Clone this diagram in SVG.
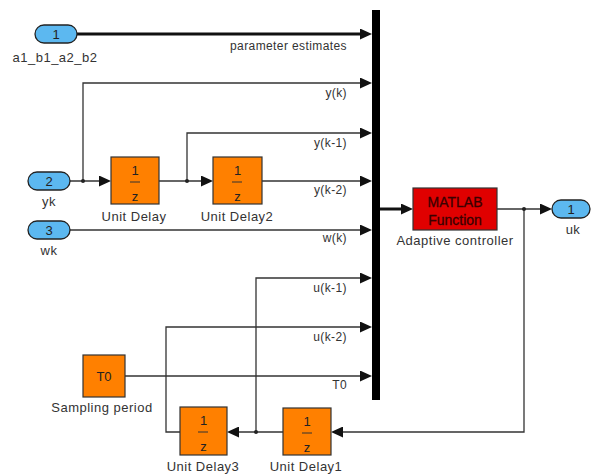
<svg xmlns="http://www.w3.org/2000/svg" width="591" height="476" viewBox="0 0 591 476">
<style>
text{font-family:"Liberation Sans",Arial,sans-serif;fill:#333}
.lbl{font-size:13px;letter-spacing:0.5px;text-anchor:middle}
.sig{font-size:12px;letter-spacing:0.4px;text-anchor:end}
.num{font-size:13px;text-anchor:middle;fill:#222}
.mf{font-size:14px;text-anchor:middle;fill:#3A0000;stroke:#3A0000;stroke-width:0.3}
.pill{fill:#5CB8F0;stroke:#222;stroke-width:1.3}
.blk{fill:#FF8000;stroke:#333;stroke-width:1.2}
.w{fill:none;stroke:#333;stroke-width:1.3}
.bus{fill:none;stroke:#111;stroke-width:3}
.dot{fill:#222}
</style>
<defs>
<marker id="ah" viewBox="0 0 12 11" refX="6" refY="5.5" markerWidth="12" markerHeight="11" markerUnits="userSpaceOnUse" orient="auto">
<path d="M0,0 L12,5.5 L0,11 z" fill="#111"/>
</marker>
</defs>
<g id="connectors">
<path class="bus" d="M77,34 H366" marker-end="url(#ah)"/>
<path class="w" d="M83,181 V83 H366" marker-end="url(#ah)"/>
<path class="w" d="M187,181 V133 H366" marker-end="url(#ah)"/>
<path class="w" d="M262,181 H366" marker-end="url(#ah)"/>
<path class="w" d="M70,230 H366" marker-end="url(#ah)"/>
<path class="w" d="M256,432 V278 H366" marker-end="url(#ah)"/>
<path class="w" d="M180,432 H166 V327 H366" marker-end="url(#ah)"/>
<path class="w" d="M125,376 H366" marker-end="url(#ah)"/>
<path class="w" d="M70,181 H105" marker-end="url(#ah)"/>
<path class="w" d="M159,181 H207" marker-end="url(#ah)"/>
<path class="bus" d="M380,209 H407" marker-end="url(#ah)"/>
<path class="w" d="M497,209 H546" marker-end="url(#ah)"/>
<path class="w" d="M524,209 V432 H337" marker-end="url(#ah)"/>
<path class="w" d="M283,432 H233" marker-end="url(#ah)"/>
<circle class="dot" cx="83" cy="181" r="2"/>
<circle class="dot" cx="187" cy="181" r="2"/>
<circle class="dot" cx="524" cy="209" r="2"/>
<circle class="dot" cx="256" cy="432" r="2"/>
<text class="sig" x="347" y="50">parameter estimates</text>
<text class="sig" x="347" y="97">y(k)</text>
<text class="sig" x="347" y="147">y(k-1)</text>
<text class="sig" x="347" y="194">y(k-2)</text>
<text class="sig" x="347" y="242">w(k)</text>
<text class="sig" x="347" y="292">u(k-1)</text>
<text class="sig" x="347" y="341">u(k-2)</text>
<text class="sig" x="347" y="389">T0</text>
</g>
<g id="mux">
<rect x="372" y="10" width="8" height="390" fill="#000"/>
</g>
<g id="in1">
<rect class="pill" x="35" y="25" width="42" height="18" rx="9"/>
<text class="num" x="56" y="38.5">1</text>
<text class="lbl" x="55" y="62">a1_b1_a2_b2</text>
</g>
<g id="in2">
<rect class="pill" x="28" y="172" width="42" height="18" rx="9"/>
<text class="num" x="49" y="185.5">2</text>
<text class="lbl" x="49" y="206">yk</text>
</g>
<g id="in3">
<rect class="pill" x="28" y="221" width="42" height="18" rx="9"/>
<text class="num" x="49" y="234.5">3</text>
<text class="lbl" x="49" y="255">wk</text>
</g>
<g id="unitdelay">
<rect class="blk" x="111" y="157" width="48" height="47"/>
<text class="num" x="135" y="175">1</text>
<line x1="130" y1="182" x2="140" y2="182" stroke="#333" stroke-width="1"/>
<text class="num" x="135" y="201">z</text>
<text class="lbl" x="134" y="221">Unit Delay</text>
</g>
<g id="unitdelay2">
<rect class="blk" x="213" y="157" width="49" height="47"/>
<text class="num" x="237.5" y="175">1</text>
<line x1="232" y1="182" x2="242" y2="182" stroke="#333" stroke-width="1"/>
<text class="num" x="237.5" y="201">z</text>
<text class="lbl" x="237" y="221">Unit Delay2</text>
</g>
<g id="matlab">
<rect x="413" y="188" width="84" height="42" fill="#E00000" stroke="#333" stroke-width="1.2"/>
<text class="mf" x="455" y="207">MATLAB</text>
<text class="mf" x="455" y="225">Function</text>
<text class="lbl" x="455" y="245">Adaptive controller</text>
</g>
<g id="out1">
<rect class="pill" x="552" y="200" width="38" height="18" rx="9"/>
<text class="num" x="571" y="213.5">1</text>
<text class="lbl" x="573" y="234">uk</text>
</g>
<g id="sampling">
<rect class="blk" x="83" y="355" width="42" height="42"/>
<text class="num" x="104" y="381">T0</text>
<text class="lbl" x="102" y="412">Sampling period</text>
</g>
<g id="unitdelay1">
<rect class="blk" x="283" y="408" width="48" height="47"/>
<text class="num" x="307" y="426">1</text>
<line x1="302" y1="433" x2="312" y2="433" stroke="#333" stroke-width="1"/>
<text class="num" x="307" y="452">z</text>
<text class="lbl" x="306" y="471">Unit Delay1</text>
</g>
<g id="unitdelay3">
<rect class="blk" x="180" y="407" width="47" height="48"/>
<text class="num" x="203.5" y="425">1</text>
<line x1="198" y1="432" x2="208" y2="432" stroke="#333" stroke-width="1"/>
<text class="num" x="203.5" y="451">z</text>
<text class="lbl" x="203" y="471">Unit Delay3</text>
</g>
</svg>
